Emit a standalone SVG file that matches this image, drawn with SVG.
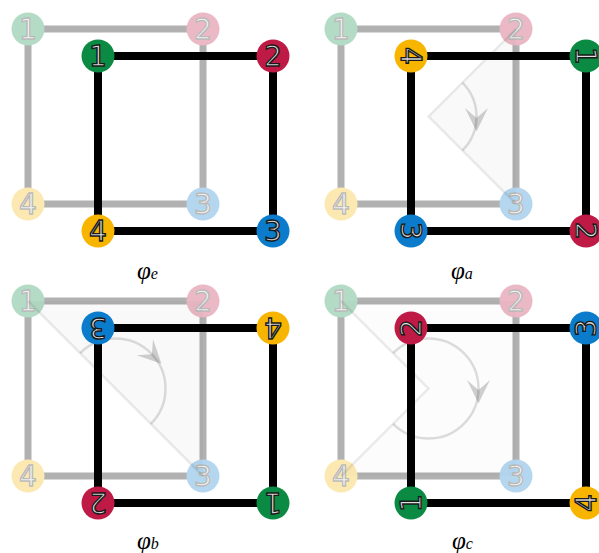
<svg xmlns="http://www.w3.org/2000/svg" xmlns:xlink="http://www.w3.org/1999/xlink" width="599" height="553" viewBox="0 0 599 553">
<style>
.edge{fill:none;stroke:#000;stroke-width:8;stroke-linecap:butt}
.gedge{fill:none;stroke:#000;stroke-width:7}
.ghost{opacity:0.3}
.c1{fill:#0b8a43}.c2{fill:#be1a45}.c3{fill:#0a7ccb}.c4{fill:#f7b500}
.num{font-family:"DejaVu Sans",sans-serif;font-size:28px;fill:#e0e0e0;stroke:#1a1a1a;stroke-width:1.4;text-anchor:middle}
.wfill{fill:#000;fill-opacity:0.025;stroke:none}
.wfill2{fill:#000;fill-opacity:0.012;stroke:none}
.warm{fill:none;stroke:#000;stroke-opacity:0.08;stroke-width:2.5}
.warc{fill:none;stroke:#000;stroke-opacity:0.13;stroke-width:2.5}
.whead{fill:#000;fill-opacity:0.18}
.lbl{font-family:"Liberation Serif",serif;font-style:italic;font-size:25px;fill:#000}
</style>
<defs>
<path id="head" d="M15 0 L-8.5 -11.5 L1.5 0 L-8.5 11.5 Z"/>
</defs>

<!-- Panel e -->
<g id="panel-e">
  <g id="ghost-e" class="ghost">
    <g id="ghost-e-edges"><path class="gedge" d="M28 29H203V204H28Z"/></g>
    <g id="ghost-e-n1"><circle class="c1" cx="28" cy="29" r="16.5"/><text class="num" x="28" y="39">1</text></g>
    <g id="ghost-e-n2"><circle class="c2" cx="203" cy="29" r="16.5"/><text class="num" x="203" y="39">2</text></g>
    <g id="ghost-e-n3"><circle class="c3" cx="203" cy="204" r="16.5"/><text class="num" x="203" y="214">3</text></g>
    <g id="ghost-e-n4"><circle class="c4" cx="28" cy="204" r="16.5"/><text class="num" x="28" y="214">4</text></g>
  </g>
  <g id="edges-e"><path class="edge" d="M98 56H273V231H98Z"/></g>
  <g id="e-n1"><circle class="c1" cx="98" cy="56" r="16.5"/><text class="num" x="98" y="66">1</text></g>
  <g id="e-n2"><circle class="c2" cx="273" cy="56" r="16.5"/><text class="num" x="273" y="66">2</text></g>
  <g id="e-n3"><circle class="c3" cx="273" cy="231" r="16.5"/><text class="num" x="273" y="241">3</text></g>
  <g id="e-n4"><circle class="c4" cx="98" cy="231" r="16.5"/><text class="num" x="98" y="241">4</text></g>
  <text class="lbl" x="137" y="279">φ<tspan font-size="16">e</tspan></text>
</g>

<!-- Panel a (90°) -->
<g id="panel-a" transform="translate(313,0)">
  <g id="ghost-a" class="ghost">
    <g id="ghost-a-edges"><path class="gedge" d="M28 29H203V204H28Z"/></g>
    <g id="ghost-a-n1"><circle class="c1" cx="28" cy="29" r="16.5"/><text class="num" x="28" y="39">1</text></g>
    <g id="ghost-a-n2"><circle class="c2" cx="203" cy="29" r="16.5"/><text class="num" x="203" y="39">2</text></g>
    <g id="ghost-a-n3"><circle class="c3" cx="203" cy="204" r="16.5"/><text class="num" x="203" y="214">3</text></g>
    <g id="ghost-a-n4"><circle class="c4" cx="28" cy="204" r="16.5"/><text class="num" x="28" y="214">4</text></g>
  </g>
  <g id="angle-a">
    <polygon class="wfill" points="115.5,116.5 203,29 203,204"/>
    <polyline class="warm" points="203,29 115.5,116.5 203,204"/>
    <path class="warc" d="M149.44 82.56A48 48 0 0 1 149.44 150.44"/>
    <use xlink:href="#head" class="whead" transform="translate(163.5,116.5) rotate(90)"/>
  </g>
  <g id="edges-a"><path class="edge" d="M98 56H273V231H98Z"/></g>
  <g id="a-n4"><circle class="c4" cx="98" cy="56" r="16.5"/><text class="num" x="98" y="66" transform="rotate(90 98 56)">4</text></g>
  <g id="a-n1"><circle class="c1" cx="273" cy="56" r="16.5"/><text class="num" x="273" y="66" transform="rotate(90 273 56)">1</text></g>
  <g id="a-n2"><circle class="c2" cx="273" cy="231" r="16.5"/><text class="num" x="273" y="241" transform="rotate(90 273 231)">2</text></g>
  <g id="a-n3"><circle class="c3" cx="98" cy="231" r="16.5"/><text class="num" x="98" y="241" transform="rotate(90 98 231)">3</text></g>
  <text class="lbl" x="138" y="279">φ<tspan font-size="16">a</tspan></text>
</g>

<!-- Panel b (180°) -->
<g id="panel-b" transform="translate(0,272)">
  <g id="ghost-b" class="ghost">
    <g id="ghost-b-edges"><path class="gedge" d="M28 29H203V204H28Z"/></g>
    <g id="ghost-b-n1"><circle class="c1" cx="28" cy="29" r="16.5"/><text class="num" x="28" y="39">1</text></g>
    <g id="ghost-b-n2"><circle class="c2" cx="203" cy="29" r="16.5"/><text class="num" x="203" y="39">2</text></g>
    <g id="ghost-b-n3"><circle class="c3" cx="203" cy="204" r="16.5"/><text class="num" x="203" y="214">3</text></g>
    <g id="ghost-b-n4"><circle class="c4" cx="28" cy="204" r="16.5"/><text class="num" x="28" y="214">4</text></g>
  </g>
  <g id="angle-b">
    <polygon class="wfill" points="28,29 203,29 203,204"/>
    <line class="warm" x1="28" y1="29" x2="203" y2="204"/>
    <path class="warc" d="M80.14 81.14A50 50 0 0 1 150.86 151.86"/>
    <use xlink:href="#head" class="whead" transform="translate(150.86,81.14) rotate(45)"/>
  </g>
  <g id="edges-b"><path class="edge" d="M98 56H273V231H98Z"/></g>
  <g id="b-n3"><circle class="c3" cx="98" cy="56" r="16.5"/><text class="num" x="98" y="66" transform="rotate(180 98 56)">3</text></g>
  <g id="b-n4"><circle class="c4" cx="273" cy="56" r="16.5"/><text class="num" x="273" y="66" transform="rotate(180 273 56)">4</text></g>
  <g id="b-n1"><circle class="c1" cx="273" cy="231" r="16.5"/><text class="num" x="273" y="241" transform="rotate(180 273 231)">1</text></g>
  <g id="b-n2"><circle class="c2" cx="98" cy="231" r="16.5"/><text class="num" x="98" y="241" transform="rotate(180 98 231)">2</text></g>
  <text class="lbl" x="137" y="277">φ<tspan font-size="16">b</tspan></text>
</g>

<!-- Panel c (270°) -->
<g id="panel-c" transform="translate(313,272)">
  <g id="ghost-c" class="ghost">
    <g id="ghost-c-edges"><path class="gedge" d="M28 29H203V204H28Z"/></g>
    <g id="ghost-c-n1"><circle class="c1" cx="28" cy="29" r="16.5"/><text class="num" x="28" y="39">1</text></g>
    <g id="ghost-c-n2"><circle class="c2" cx="203" cy="29" r="16.5"/><text class="num" x="203" y="39">2</text></g>
    <g id="ghost-c-n3"><circle class="c3" cx="203" cy="204" r="16.5"/><text class="num" x="203" y="214">3</text></g>
    <g id="ghost-c-n4"><circle class="c4" cx="28" cy="204" r="16.5"/><text class="num" x="28" y="214">4</text></g>
  </g>
  <g id="angle-c">
    <polygon class="wfill2" points="115.5,116.5 28,29 203,29 203,204 28,204"/>
    <polyline class="warm" points="28,29 115.5,116.5 28,204"/>
    <path class="warc" d="M80.14 81.14A50 50 0 1 1 80.14 151.86"/>
    <use xlink:href="#head" class="whead" transform="translate(165.5,116.5) rotate(90)"/>
  </g>
  <g id="edges-c"><path class="edge" d="M98 56H273V231H98Z"/></g>
  <g id="c-n2"><circle class="c2" cx="98" cy="56" r="16.5"/><text class="num" x="98" y="66" transform="rotate(-90 98 56)">2</text></g>
  <g id="c-n3"><circle class="c3" cx="273" cy="56" r="16.5"/><text class="num" x="273" y="66" transform="rotate(-90 273 56)">3</text></g>
  <g id="c-n4"><circle class="c4" cx="273" cy="231" r="16.5"/><text class="num" x="273" y="241" transform="rotate(-90 273 231)">4</text></g>
  <g id="c-n1"><circle class="c1" cx="98" cy="231" r="16.5"/><text class="num" x="98" y="241" transform="rotate(-90 98 231)">1</text></g>
  <text class="lbl" x="139" y="277">φ<tspan font-size="16">c</tspan></text>
</g>
</svg>
